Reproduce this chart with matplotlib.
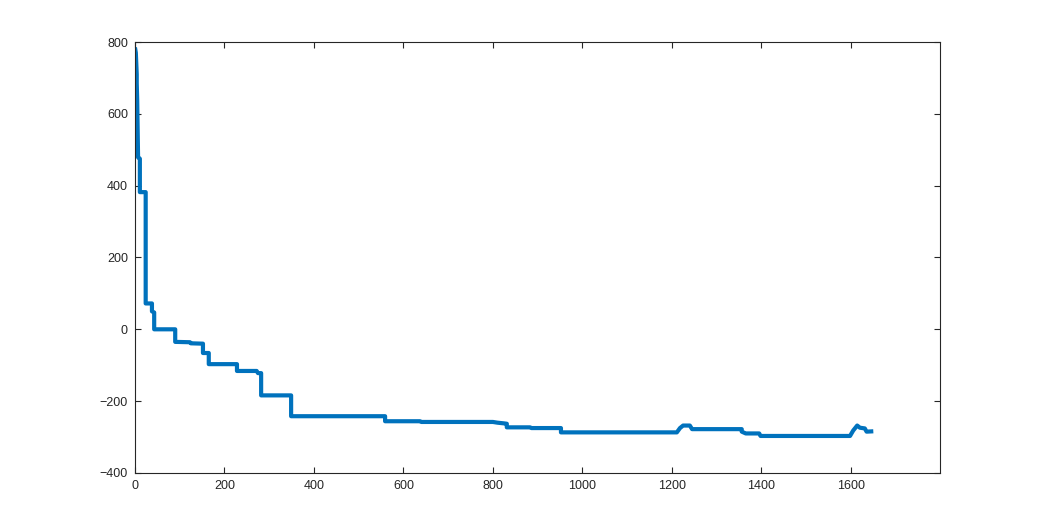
import matplotlib
matplotlib.use('Agg')
import matplotlib.pyplot as plt

# vertices of the curve (vertical drops share an x)
x_vals = [0, 2, 4, 4, 5, 7, 11, 11, 24, 24, 38, 38, 43, 43, 90, 90, 123, 125,
          152, 152, 165, 165, 228, 228, 272, 275, 282, 282, 349, 349, 559, 559,
          637, 640, 800, 810, 825, 831, 831, 883, 886, 952, 952, 1211, 1218,
          1225, 1240, 1245, 1356, 1356, 1365, 1395, 1398, 1598, 1605, 1614,
          1620, 1631, 1635, 1650]
y_vals = [785, 770, 710, 685, 640, 479, 475, 382, 382, 72, 72, 50, 47, 0, 0, -35,
          -36, -39, -40, -66, -66, -97, -97, -116, -116, -122, -122, -184, -184,
          -242, -242, -256, -256, -258, -258, -260, -262, -263, -273, -273, -275,
          -275, -287, -287, -275, -268, -268, -278, -278, -285, -290, -290, -297,
          -297, -282, -268, -274, -276, -285, -284]

x_ticks = [0, 200, 400, 600, 800, 1000, 1200, 1400, 1600]
y_ticks = [-400, -200, 0, 200, 400, 600, 800]

plt.rcParams['font.family'] = ['Liberation Sans', 'DejaVu Sans']

fig = plt.figure(figsize=(10.38, 5.32), dpi=100)
ax = fig.add_axes([0.130, 0.111, 0.776, 0.810])

ax.plot(x_vals, y_vals, color='#0072BD', linewidth=3.0,
        solid_joinstyle='round', solid_capstyle='butt')

ax.set_xlim(0, 1800)
ax.set_ylim(-400, 800)
ax.set_xticks(x_ticks)
ax.set_yticks(y_ticks)

for side in ax.spines.values():
    side.set_color('#262626')
    side.set_linewidth(0.8)
ax.tick_params(direction='in', length=4.5, width=0.8, top=True, right=True,
               colors='#262626', labelsize=9, pad=5)

plt.savefig('out.png', dpi=100, facecolor='white')
plt.close()
